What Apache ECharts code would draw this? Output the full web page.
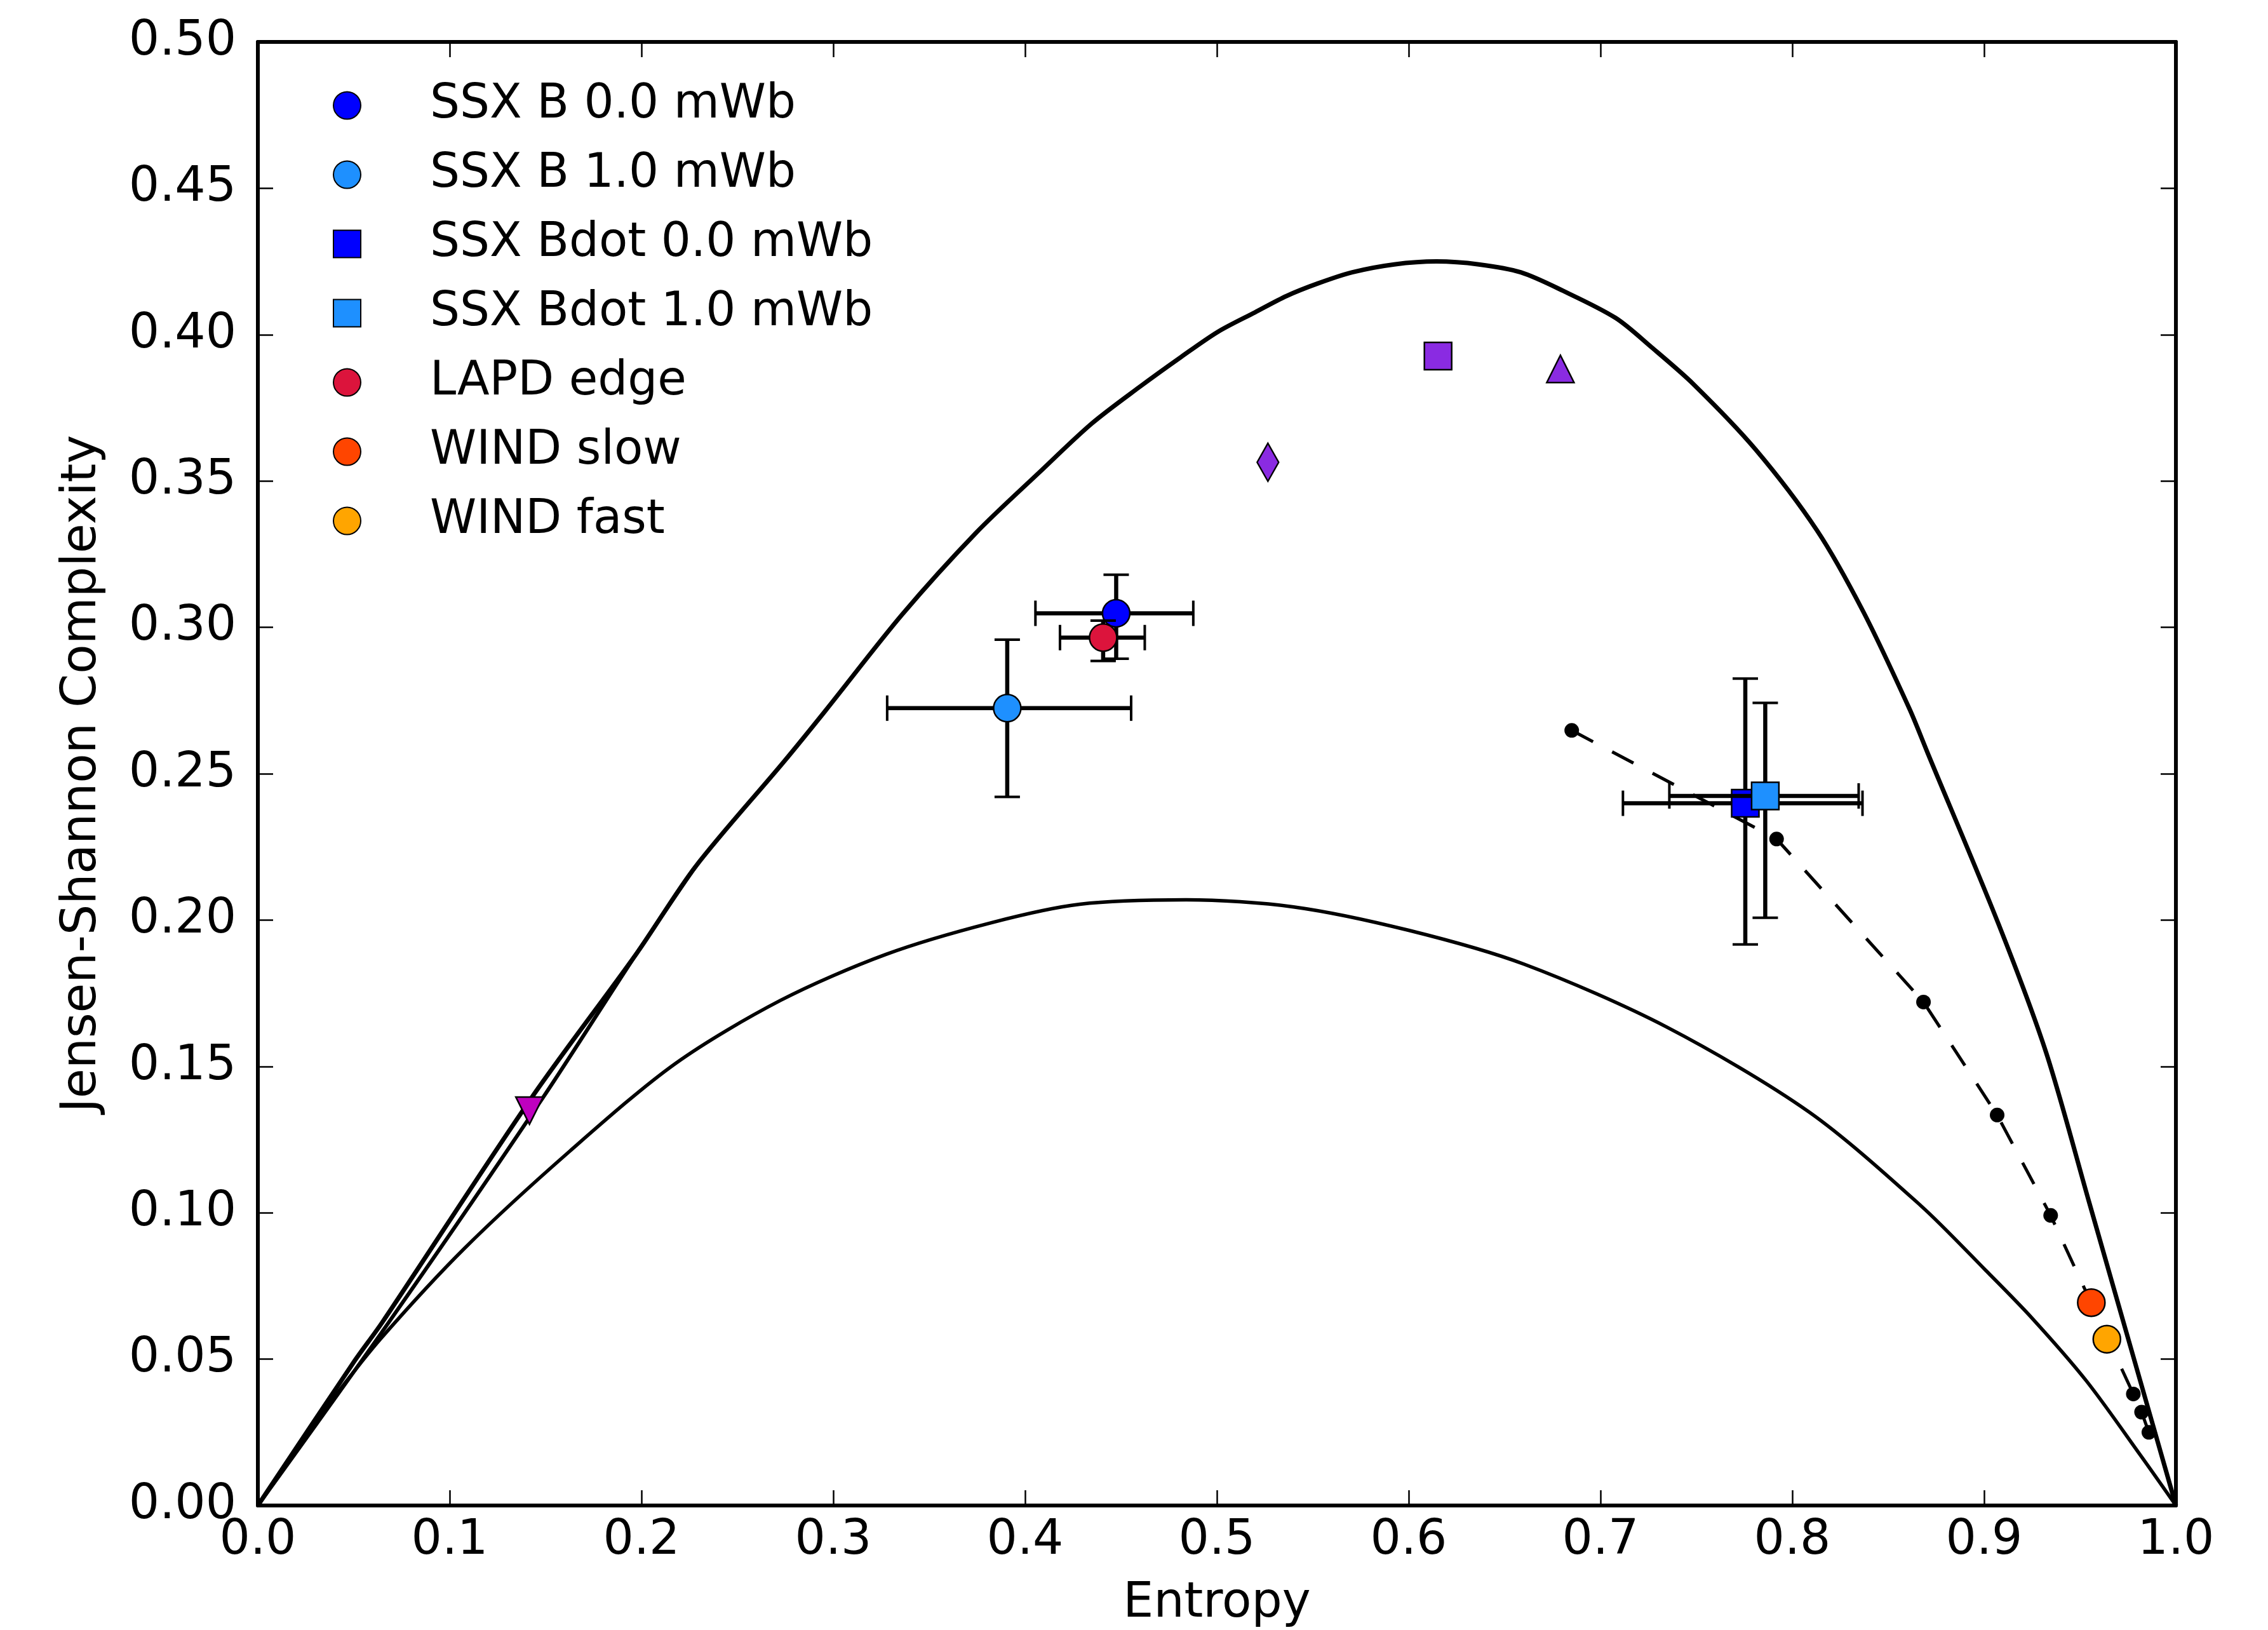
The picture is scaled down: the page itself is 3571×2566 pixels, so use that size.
<!DOCTYPE html>
<html><head><meta charset="utf-8">
<script src="https://cdn.jsdelivr.net/npm/echarts@6/dist/echarts.min.js"></script>
<style>html,body{margin:0;padding:0;background:#fff}#c{width:3571px;height:2566px}</style>
</head><body><div id="c"></div>
<script>
// ---- data ----
const upperCurve = [[0,0],[0.05,0.049],[0.0651,0.0628],[0.1428,0.1394],[0.1977,0.1888],[0.2281,0.2182],[0.274,0.2539],[0.296,0.2716],[0.3358,0.3043],[0.3743,0.3322],[0.4072,0.3528],[0.4347,0.3696],[0.4594,0.382],[0.4814,0.3924],[0.5006,0.401],[0.5198,0.4076],[0.5363,0.4132],[0.5527,0.4175],[0.5706,0.4213],[0.5925,0.424],[0.6145,0.425],[0.6365,0.424],[0.6584,0.4213],[0.6804,0.415],[0.7079,0.4057],[0.7266,0.3957],[0.7486,0.383],[0.7807,0.3609],[0.8128,0.3332],[0.8369,0.3055],[0.861,0.2723],[0.8705,0.2572],[0.9076,0.1985],[0.9323,0.1548],[0.9548,0.1035],[1,0]];
const upperCurveAlt = [[0,0],[0.0685,0.0628],[0.1487,0.1394],[0.1977,0.1888],[0.2281,0.2182]];
const lowerCurve = [[0,0],[0.02,0.0192],[0.04,0.0372],[0.0642,0.0571],[0.1078,0.0879],[0.1627,0.1211],[0.2177,0.151],[0.2726,0.1726],[0.3275,0.1883],[0.3824,0.1991],[0.4285,0.2054],[0.484,0.2069],[0.54,0.2045],[0.6,0.1965],[0.6603,0.1849],[0.7344,0.1635],[0.8086,0.1345],[0.8669,0.1025],[0.9009,0.0803],[0.925,0.064],[0.9534,0.0425],[0.9817,0.017],[1,0]];
const modelPoints = [[0.685,0.2648],[0.7918,0.2277],[0.8684,0.172],[0.9068,0.1334],[0.9347,0.0991],[0.9778,0.0381],[0.9821,0.0319],[0.9859,0.025]];
// measurements: [entropy, complexity, entropyLow, entropyHigh, complexityLow, complexityHigh]
const ssxB00 = [0.4475, 0.3048, 0.4054, 0.4877, 0.2893, 0.3180];
const ssxB10 = [0.3907, 0.2724, 0.3281, 0.4553, 0.2421, 0.2958];
const ssxBdot00 = [0.7755, 0.2399, 0.7117, 0.8366, 0.1917, 0.2825];
const ssxBdot10 = [0.7859, 0.2424, 0.7359, 0.8346, 0.2008, 0.2742];
const lapdEdge = [0.4407, 0.2965, 0.4182, 0.4624, 0.2885, 0.3023];
const windSlow = [0.9559, 0.0693];
const windFast = [0.9640, 0.0568];
const violetDiamond = [0.5266, 0.3564];
const violetSquare = [0.6153, 0.3927];
const violetTriangle = [0.6791, 0.3883];
const magentaTriangle = [0.1416, 0.1349];

const FONT = 'DejaVu Sans';
const chart = echarts.init(document.getElementById('c'), null, {renderer: 'canvas'});

function errRender(params, api) {
  const x = api.value(0), y = api.value(1);
  const l = api.coord([api.value(2), y]);
  const r = api.coord([api.value(3), y]);
  const b = api.coord([x, api.value(4)]);
  const t = api.coord([x, api.value(5)]);
  const cap = 20;
  const bar = {stroke: '#000', lineWidth: 6.5};
  const cs = {stroke: '#000', lineWidth: 4};
  return {type: 'group', children: [
    {type: 'line', shape: {x1: l[0], y1: l[1], x2: r[0], y2: r[1]}, style: bar},
    {type: 'line', shape: {x1: b[0], y1: b[1], x2: t[0], y2: t[1]}, style: bar},
    {type: 'line', shape: {x1: l[0], y1: l[1] - cap, x2: l[0], y2: l[1] + cap}, style: cs},
    {type: 'line', shape: {x1: r[0], y1: r[1] - cap, x2: r[0], y2: r[1] + cap}, style: cs},
    {type: 'line', shape: {x1: b[0] - cap, y1: b[1], x2: b[0] + cap, y2: b[1]}, style: cs},
    {type: 'line', shape: {x1: t[0] - cap, y1: t[1], x2: t[0] + cap, y2: t[1]}, style: cs}
  ]};
}

const series = [];
function curve(data, w) {
  series.push({type: 'line', data: data, symbol: 'none', showSymbol: false, silent: true, z: 1,
    smooth: 0.3,
    lineStyle: {color: '#000', width: w}, animation: false});
}
curve(upperCurve, 7);
curve(upperCurveAlt, 6);
curve(lowerCurve, 5.5);
series.push({type: 'line', data: modelPoints, symbol: 'circle', symbolSize: 23, z: 2, silent: true,
  itemStyle: {color: '#000'}, lineStyle: {color: '#000', width: 5, type: [38, 34]}});

const mk = {borderColor: '#000', borderWidth: 2.5};
const MS = 43;
let zc = 3;
function measured(name, row, color, symbol) {
  series.push({type: 'custom', data: [row], renderItem: errRender, z: zc++, silent: true,
    encode: {x: 0, y: 1}});
  series.push({type: 'scatter', name: name, data: [[row[0], row[1]]], symbol: symbol, symbolSize: MS,
    z: zc++, itemStyle: Object.assign({color: color, opacity: 1}, mk)});
}
measured('SSX B 0.0 mWb', ssxB00, '#0000FF', 'circle');
measured('SSX B 1.0 mWb', ssxB10, '#1E90FF', 'circle');
measured('SSX Bdot 0.0 mWb', ssxBdot00, '#0000FF', 'rect');
measured('SSX Bdot 1.0 mWb', ssxBdot10, '#1E90FF', 'rect');
measured('LAPD edge', lapdEdge, '#DC143C', 'circle');
series.push({type: 'scatter', name: 'WIND slow', data: [windSlow], symbol: 'circle', symbolSize: MS, z: zc++,
  itemStyle: Object.assign({color: '#FF4500', opacity: 1}, mk)});
series.push({type: 'scatter', name: 'WIND fast', data: [windFast], symbol: 'circle', symbolSize: MS, z: zc++,
  itemStyle: Object.assign({color: '#FFA500', opacity: 1}, mk)});
series.push({type: 'scatter', data: [violetDiamond], symbol: 'diamond', symbolSize: [34, 60], z: zc++,
  itemStyle: Object.assign({color: '#8A2BE2', opacity: 1}, mk)});
series.push({type: 'scatter', data: [violetSquare], symbol: 'rect', symbolSize: MS, z: zc++,
  itemStyle: Object.assign({color: '#8A2BE2', opacity: 1}, mk)});
series.push({type: 'scatter', data: [violetTriangle], symbol: 'triangle', symbolSize: MS, z: zc++,
  itemStyle: Object.assign({color: '#8A2BE2', opacity: 1}, mk)});
series.push({type: 'scatter', data: [magentaTriangle], symbol: 'triangle', symbolRotate: 180, symbolSize: MS, z: zc++,
  itemStyle: Object.assign({color: '#BF00BF', opacity: 1}, mk)});

const axLine = {show: true, onZero: false, lineStyle: {color: '#000', width: 6}};
const tick = {show: true, inside: true, length: 24, lineStyle: {color: '#000', width: 2.5}};
const lab = {color: '#000', fontFamily: FONT, fontSize: 76};

chart.setOption({
  animation: false,
  backgroundColor: '#fff',
  grid: {left: 406, right: 145, top: 66, bottom: 196, containLabel: false, outerBoundsMode: 'none'},
  legend: {
    orient: 'vertical', left: 519, top: 124,
    itemWidth: 43, itemHeight: 43, itemGap: 35,
    data: ['SSX B 0.0 mWb', 'SSX B 1.0 mWb', 'SSX Bdot 0.0 mWb', 'SSX Bdot 1.0 mWb', 'LAPD edge', 'WIND slow', 'WIND fast'],
    textStyle: {color: '#000', fontFamily: FONT, fontSize: 74, padding: [0, 0, 0, 104]},
    selectedMode: false
  },
  xAxis: [
    {type: 'value', min: 0, max: 1, interval: 0.1, position: 'bottom',
     name: 'Entropy', nameLocation: 'middle', nameGap: 117,
     nameTextStyle: {color: '#000', fontFamily: FONT, fontSize: 76},
     axisLine: axLine, axisTick: tick, splitLine: {show: false},
     axisLabel: Object.assign({margin: 18, formatter: v => v.toFixed(1)}, lab)},
    {type: 'value', min: 0, max: 1, interval: 0.1, position: 'top',
     axisLine: axLine, axisTick: tick, splitLine: {show: false}, axisLabel: {show: false}}
  ],
  yAxis: [
    {type: 'value', min: 0, max: 0.5, interval: 0.05, position: 'left',
     name: 'Jensen-Shannon Complexity', nameLocation: 'middle', nameGap: 238,
     nameTextStyle: {color: '#000', fontFamily: FONT, fontSize: 76},
     axisLine: axLine, axisTick: tick, splitLine: {show: false},
     axisLabel: Object.assign({margin: 34, formatter: v => v.toFixed(2)}, lab)},
    {type: 'value', min: 0, max: 0.5, interval: 0.05, position: 'right',
     axisLine: axLine, axisTick: tick, splitLine: {show: false}, axisLabel: {show: false}}
  ],
  series: series
});
</script></body></html>
